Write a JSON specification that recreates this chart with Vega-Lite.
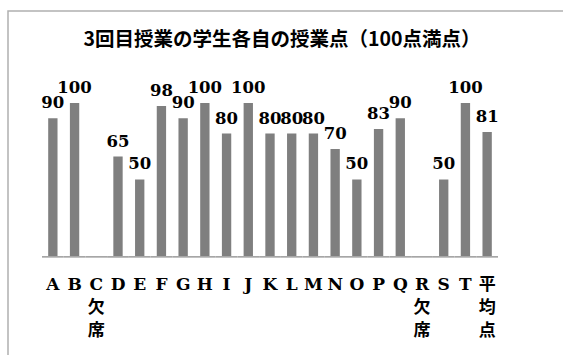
{
  "$schema": "https://vega.github.io/schema/vega-lite/v6.json",
  "autosize": "none",
  "padding": {"left": 8, "top": 11, "right": -1, "bottom": -1},
  "width": 556,
  "height": 345,
  "background": "white",
  "config": {"view": {"stroke": "#b0b0b0", "strokeWidth": 1.5}},
  "title": {
    "text": "3回目授業の学生各自の授業点（100点満点）",
    "anchor": "middle",
    "frame": "group",
    "font": "Noto Sans CJK JP",
    "fontSize": 19.5,
    "fontWeight": "bold",
    "color": "#000000",
    "offset": 0,
    "baseline": "top",
    "dy": 39,
    "dx": -4
  },
  "data": {
    "values": [
      {"student": "A", "score": 90},
      {"student": "B", "score": 100},
      {"student": "C", "score": null},
      {"student": "D", "score": 65},
      {"student": "E", "score": 50},
      {"student": "F", "score": 98},
      {"student": "G", "score": 90},
      {"student": "H", "score": 100},
      {"student": "I", "score": 80},
      {"student": "J", "score": 100},
      {"student": "K", "score": 80},
      {"student": "L", "score": 80},
      {"student": "M", "score": 80},
      {"student": "N", "score": 70},
      {"student": "O", "score": 50},
      {"student": "P", "score": 83},
      {"student": "Q", "score": 90},
      {"student": "R", "score": null},
      {"student": "S", "score": 50},
      {"student": "T", "score": 100},
      {"student": "平均点", "score": 81}
    ]
  },
  "encoding": {
    "x": {
      "field": "student",
      "type": "nominal",
      "sort": null,
      "scale": {
        "domain": ["A", "B", "C", "D", "E", "F", "G", "H", "I", "J", "K", "L", "M", "N", "O", "P", "Q", "R", "S", "T", "平均点"],
        "range": [34, 490],
        "paddingInner": 0.57,
        "paddingOuter": 0.285
      },
      "axis": {
        "title": null,
        "domain": false,
        "ticks": false,
        "grid": false,
        "offset": -100,
        "labelPadding": 20,
        "labelAngle": 0,
        "labelOverlap": false,
        "labelBound": false,
        "labelFlush": false,
        "labelFont": "DejaVu Serif, Noto Sans CJK JP",
        "labelFontSize": 17,
        "labelFontWeight": "bold",
        "labelColor": "#000000",
        "labelLineHeight": 23,
        "labelExpr": "datum.value == 'C' || datum.value == 'R' ? [datum.value, '欠', '席'] : (datum.value == '平均点' ? ['平', '均', '点'] : datum.value)"
      }
    }
  },
  "layer": [
    {
      "mark": {"type": "bar", "color": "#7f7f7f"},
      "encoding": {
        "y": {
          "field": "score",
          "type": "quantitative",
          "scale": {"domain": [-65.36, 160.13], "nice": false, "zero": false},
          "axis": null
        },
        "y2": {"datum": 0}
      }
    },
    {
      "mark": {"type": "bar", "color": "#a6a6a6", "width": {"band": 2.3256}},
      "encoding": {
        "y": {"datum": 0, "type": "quantitative"},
        "y2": {"datum": -1.1}
      }
    },
    {
      "mark": {
        "type": "text",
        "baseline": "alphabetic",
        "dy": -10,
        "font": "DejaVu Serif",
        "fontSize": 16.5,
        "fontWeight": "bold",
        "color": "#000000"
      },
      "encoding": {
        "y": {"field": "score", "type": "quantitative"},
        "text": {"field": "score", "type": "quantitative"}
      }
    }
  ]
}
